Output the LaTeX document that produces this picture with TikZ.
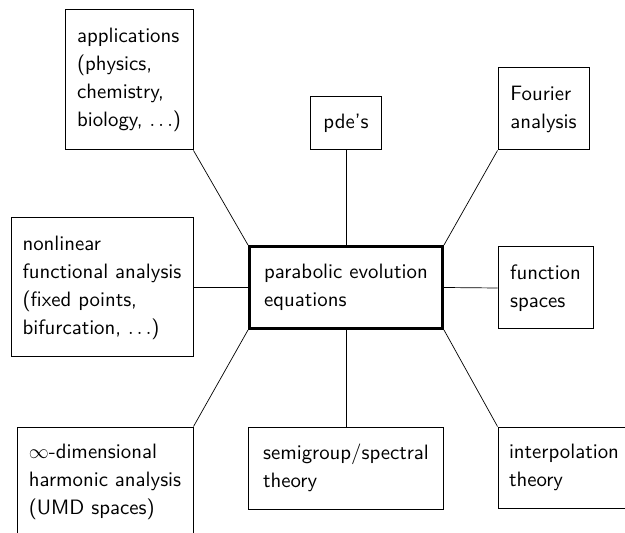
\documentclass[tikz,border=0pt]{standalone}
\usepackage{tikz}
\begin{document}
\begin{tikzpicture}[x=0.5pt,y=-0.5pt,
  every node/.style={font=\fontsize{10.4pt}{14pt}\selectfont\sffamily},
  bx/.style={draw, line width=0.5pt, align=left, inner xsep=5.5pt},
  hub/.style={draw, line width=1.5pt, align=left},
  link/.style={line width=0.35pt}]
\clip (0,0) rectangle (625,533);
\fill[white] (0,0) rectangle (625,533);
\node[hub, minimum width=96.5pt, minimum height=41pt] (c) at (346,287.5) {parabolic evolution\\equations};
\node[bx, minimum width=64pt, minimum height=70pt] (app) at (129,80) {applications\\(physics,\\chemistry,\\biology, $\ldots$)};
\node[bx, minimum width=35.5pt, minimum height=26.5pt] (pde) at (346,123.5) {pde's};
\node[bx, minimum width=45.5pt, minimum height=41pt] (four) at (543.5,109) {Fourier\\analysis};
\node[bx, minimum width=91pt, minimum height=69.5pt] (nl) at (102,287.5) {nonlinear\\functional analysis\\(fixed points,\\bifurcation, $\ldots$)};
\node[bx, minimum width=47.5pt, minimum height=41pt] (fs) at (545.5,288) {function\\spaces};
\node[bx, minimum width=88pt, minimum height=55pt] (inf) at (105,482) {$\infty$-dimensional\\harmonic analysis\\(UMD spaces)};
\node[bx, minimum width=97.5pt, minimum height=41pt] (sg) at (346,468) {semigroup/spectral\\theory};
\node[bx, text width=59.5pt, minimum height=40.5pt] (ip) at (568.5,467.5) {interpolation\\theory};
\draw[link] (app.south east) -- (c.north west);
\draw[link] (pde.south) -- (c.north);
\draw[link] (four.south west) -- (c.north east);
\draw[link] (nl.east) -- (c.west);
\draw[link] (fs.west) -- (c.east);
\draw[link] (inf.north east) -- (c.south west);
\draw[link] (sg.north) -- (c.south);
\draw[link] (ip.north west) -- (c.south east);
\end{tikzpicture}
\end{document}
